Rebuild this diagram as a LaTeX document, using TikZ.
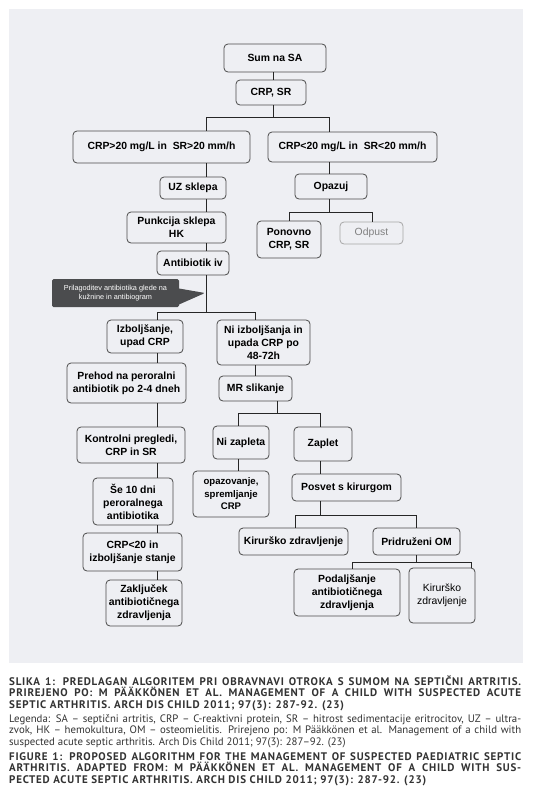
\documentclass[tikz,border=0pt]{standalone}
\usepackage{fontspec}
\setmainfont{Liberation Sans}
\newfontfamily\capfont[LetterSpace=7.0]{PT Sans}
\newfontfamily\legfont{PT Sans}
\usetikzlibrary{shapes.callouts}

\definecolor{panelgray}{HTML}{EEEFF3}
\definecolor{boxline}{HTML}{4A4A4A}
\definecolor{notegray}{HTML}{4B4C4E}
\definecolor{captext}{HTML}{333333}

\tikzset{
    box/.style={draw=boxline, line width=0.8pt, rounded corners=4pt, fill=panelgray,
        align=center, inner sep=2pt, font=\bfseries\fontsize{10.4}{13}\selectfont},
    lightbox/.style={box, draw=black!35, text=black!50, font=\fontsize{10.4}{13}\selectfont},
    link/.style={draw=black!85, line width=0.9pt},
    notebox/.style={rectangle callout, fill=notegray, text=white, align=center,
        rounded corners=1.5pt, callout pointer width=16pt,
        font=\fontsize{7.3}{9.5}\selectfont},
    capline/.style={anchor=base west, inner sep=0pt, text=captext,
        font=\capfont\bfseries\fontsize{11}{11.5}\selectfont},
    legline/.style={anchor=base west, inner sep=0pt, text=captext,
        font=\legfont\fontsize{10.8}{11.5}\selectfont},
}

\begin{document}
\begin{tikzpicture}[x=1pt,y=-1pt]
    \useasboundingbox (0,0) rectangle (536,811);
    \fill[white] (0,0) rectangle (536,811);
    \fill[panelgray] (9,9) rectangle (523,663);

    % columns of the connectors and heights of the branch bars
    \coordinate (colA) at (273,0);
    \coordinate (colB) at (206,0);
    \coordinate (colC) at (329,0);
    \coordinate (colD) at (289,0);
    \coordinate (colE) at (372,0);
    \coordinate (colF) at (157,0);
    \coordinate (colG) at (255,0);
    \coordinate (colH) at (277,0);
    \coordinate (colI) at (238,0);
    \coordinate (colJ) at (320,0);
    \coordinate (colK) at (295,0);
    \coordinate (colL) at (416,0);
    \coordinate (colM) at (352,0);
    \coordinate (colN) at (471,0);
    \coordinate (bar1) at (0,117);
    \coordinate (bar2) at (0,212);
    \coordinate (bar3) at (0,312);
    \coordinate (bar4) at (0,413);
    \coordinate (bar5) at (0,515);
    \coordinate (bar6) at (0,562);

    % boxes
    \node[box, minimum width=102pt, minimum height=28pt] (sum) at (275,58) {Sum na SA};
    \node[box, minimum width=70pt, minimum height=25pt] (crpsr) at (271,92.5) {CRP, SR};
    \node[box, minimum width=177pt, minimum height=32pt] (high) at (161.5,147) {CRP>20 mg/L in~~SR>20 mm/h};
    \node[box, minimum width=169pt, minimum height=30pt] (low) at (352.5,147) {CRP<20 mg/L in~~SR<20 mm/h};
    \node[box, minimum width=66pt, minimum height=22pt] (uz) at (193,188) {UZ sklepa};
    \node[box, minimum width=99pt, minimum height=31pt] (punk) at (176.5,227.5) {Punkcija sklepa\\HK};
    \node[box, minimum width=72pt, minimum height=24pt] (abiv) at (193,263) {Antibiotik iv};
    \node[box, minimum width=72pt, minimum height=25pt] (opazuj) at (331,186.5) {Opazuj};
    \node[box, minimum width=64pt, minimum height=37pt] (ponovno) at (289,239.5) {Ponovno\\CRP, SR};
    \node[lightbox, minimum width=63pt, minimum height=22pt] (odpust) at (371.5,233) {Odpust};
    \node[notebox, minimum width=127pt, minimum height=28pt,
        callout absolute pointer={(205,293)}] (note) at (115.5,293)
        {Prilagoditev antibiotika glede na\\kužnine in antibiogram};
    \node[box, minimum width=76pt, minimum height=33pt] (izb) at (145,336.5) {Izboljšanje,\\upad CRP};
    \node[box, minimum width=93pt, minimum height=45pt] (niizb) at (263.5,342.5) {Ni izboljšanja in\\upada CRP po\\48-72h};
    \node[box, minimum width=119pt, minimum height=40pt] (prehod) at (126.5,383) {Prehod na peroralni\\antibiotik po 2-4 dneh};
    \node[box, minimum width=73pt, minimum height=25pt] (mr) at (255.5,388.5) {MR slikanje};
    \node[box, minimum width=108pt, minimum height=36pt] (kontrol) at (131,445) {Kontrolni pregledi,\\CRP in SR};
    \node[box, minimum width=56pt, minimum height=33pt] (nizap) at (241,442.5) {Ni zapleta};
    \node[box, minimum width=58pt, minimum height=34pt] (zaplet) at (323,444) {Zaplet};
    \node[box, minimum width=76pt, minimum height=46pt, font=\bfseries\fontsize{9.6}{12.5}\selectfont] (opazov) at (231,494) {opazovanje,\\spremljanje\\CRP};
    \node[box, minimum width=109pt, minimum height=27pt] (posvet) at (346.5,487.5) {Posvet s kirurgom};
    \node[box, minimum width=80pt, minimum height=47pt] (se10) at (133,501.5) {Še 10 dni\\peroralnega\\antibiotika};
    \node[box, minimum width=109pt, minimum height=27pt] (kirA) at (293.5,541.5) {Kirurško zdravljenje};
    \node[box, minimum width=87pt, minimum height=27pt] (pridom) at (416.5,541.5) {Pridruženi OM};
    \node[box, minimum width=99pt, minimum height=38pt] (crpok) at (132.5,552) {CRP<20 in\\izboljšanje stanje};
    \node[box, minimum width=106pt, minimum height=47pt] (podalj) at (347,592.5) {Podaljšanje\\antibiotičnega\\zdravljenja};
    \node[box, minimum width=66pt, minimum height=55pt, font=\fontsize{10.4}{13}\selectfont] (kirB) at (442,595.5) {Kirurško\\zdravljenje};
    \node[box, minimum width=76pt, minimum height=46pt] (zakl) at (144,603) {Zaključek\\antibiotičnega\\zdravljenja};

    % connectors
    \draw[link] (sum.south -| colA) -- (crpsr.north -| colA);
    \draw[link] (crpsr.south -| colA) -- (colA |- bar1);
    \draw[link] (high.north -| colB) -- (colB |- bar1) -- (colC |- bar1) -- (low.north -| colC);
    \draw[link] (high.south -| colB) -- (uz.north -| colB);
    \draw[link] (uz.south -| colB) -- (punk.north -| colB);
    \draw[link] (punk.south -| colB) -- (abiv.north -| colB);
    \draw[link] (abiv.south -| colB) -- (colB |- bar3);
    \draw[link] (izb.north -| colF) -- (colF |- bar3) -- (colG |- bar3) -- (niizb.north -| colG);
    \draw[link] (low.south -| colC) -- (opazuj.north -| colC);
    \draw[link] (opazuj.south -| colC) -- (colC |- bar2);
    \draw[link] (ponovno.north -| colD) -- (colD |- bar2) -- (colE |- bar2) -- (odpust.north -| colE);
    \draw[link] (izb.south -| colF) -- (prehod.north -| colF);
    \draw[link] (prehod.south -| colF) -- (kontrol.north -| colF);
    \draw[link] (kontrol.south -| colF) -- (se10.north -| colF);
    \draw[link] (se10.south -| colF) -- (crpok.north -| colF);
    \draw[link] (crpok.south -| colF) -- (zakl.north -| colF);
    \draw[link] (niizb.south -| colG) -- (mr.north -| colG);
    \draw[link] (mr.south -| colH) -- (colH |- bar4);
    \draw[link] (nizap.north -| colI) -- (colI |- bar4) -- (colJ |- bar4) -- (zaplet.north -| colJ);
    \draw[link] (nizap.south -| colI) -- (opazov.north -| colI);
    \draw[link] (zaplet.south -| colJ) -- (posvet.north -| colJ);
    \draw[link] (posvet.south -| colJ) -- (colJ |- bar5);
    \draw[link] (kirA.north -| colK) -- (colK |- bar5) -- (colL |- bar5) -- (pridom.north -| colL);
    \draw[link] (pridom.south -| colL) -- (colL |- bar6);
    \draw[link] (podalj.north -| colM) -- (colM |- bar6) -- (colN |- bar6) -- (kirB.north -| colN);

    % caption
    \node[capline] (cap1) at (9,685) {\makebox[512pt][s]{SLIKA 1: PREDLAGAN ALGORITEM PRI OBRAVNAVI OTROKA S SUMOM NA SEPTIČNI ARTRITIS.}};
    \node[capline] (cap2) at (9,696.5) {\makebox[512pt][s]{PRIREJENO PO: M PÄÄKKÖNEN ET AL. MANAGEMENT OF A CHILD WITH SUSPECTED ACUTE}};
    \node[capline] (cap3) at (9,708) {SEPTIC ARTHRITIS. ARCH DIS CHILD 2011; 97(3): 287-92. (23)};
    \node[legline] (leg1) at (9,722) {\makebox[512pt][s]{Legenda: SA – septični artritis, CRP – C-reaktivni protein, SR – hitrost sedimentacije eritrocitov, UZ – ultra-}};
    \node[legline] (leg2) at (9,733.5) {\makebox[512pt][s]{zvok, HK – hemokultura, OM – osteomielitis. Prirejeno po: M Pääkkönen et al. Management of a child with}};
    \node[legline] (leg3) at (9,745) {suspected acute septic arthritis. Arch Dis Child 2011; 97(3): 287–92. (23)};
    \node[capline] (fig1) at (9,760) {\makebox[512pt][s]{FIGURE 1: PROPOSED ALGORITHM FOR THE MANAGEMENT OF SUSPECTED PAEDIATRIC SEPTIC}};
    \node[capline] (fig2) at (9,771.5) {\makebox[512pt][s]{ARTHRITIS. ADAPTED FROM: M PÄÄKKÖNEN ET AL. MANAGEMENT OF A CHILD WITH SUS-}};
    \node[capline] (fig3) at (9,783) {PECTED ACUTE SEPTIC ARTHRITIS. ARCH DIS CHILD 2011; 97(3): 287-92. (23)};
\end{tikzpicture}
\end{document}
